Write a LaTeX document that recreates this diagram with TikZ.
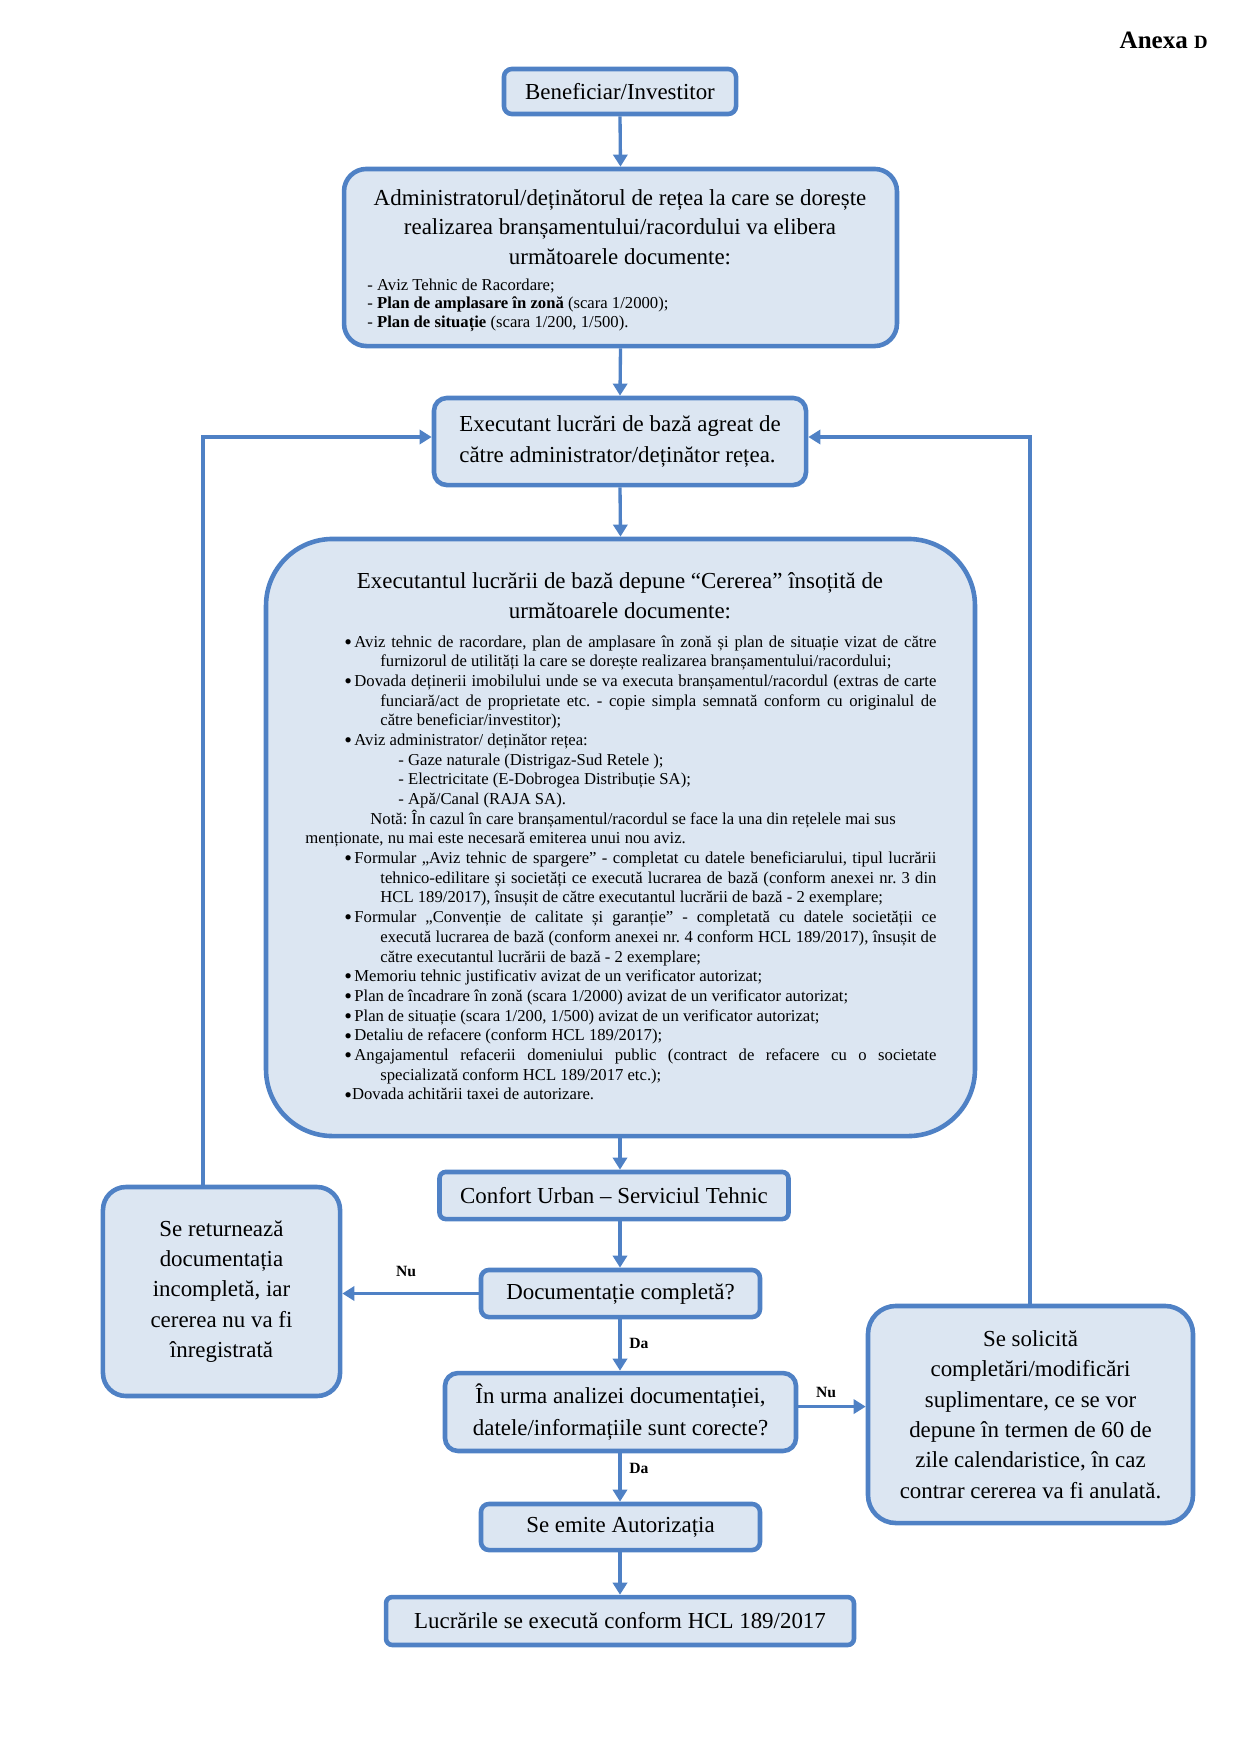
\documentclass[tikz,border=0pt]{standalone}
\usepackage{fontspec}
\setmainfont{Liberation Serif}
\usetikzlibrary{arrows.meta}
\definecolor{bcol}{RGB}{79,129,197}
\definecolor{fcol}{RGB}{220,230,242}
\frenchspacing
\newcommand\LJ[2]{\hbox to \hsize{\hskip #1\relax #2}}
\newcommand\LR[2]{\hbox to \hsize{\hskip #1\relax #2\hfil}}
\newcommand\bulg{\raisebox{-1.1pt}{\fontsize{10.5}{1}\selectfont •}}
\newcommand\bul{\makebox[4.8pt][l]{\bulg}}
\tikzset{
  bx/.style={draw=bcol, fill=fcol, line width=2.2pt, rounded corners=#1, inner sep=0pt, align=center, font=\fontsize{11}{14.6}\selectfont},
  arr/.style={draw=bcol, line width=1.6pt, -{Triangle[length=5.8pt,width=6.8pt]}},
  lbl/.style={inner sep=0pt, font=\fontsize{7.5}{9}\selectfont\bfseries},
  txt/.style={inner sep=0pt}
}
\begin{document}
\begin{tikzpicture}[x=0.48pt, y=-0.48pt]
\useasboundingbox (0,0) rectangle (1240,1754);
% title
\node[txt, anchor=base east] (anexa) at (1208,48) {\bfseries\fontsize{12}{14}\selectfont Anexa \fontsize{9}{11}\selectfont D};
% boxes
\node[bx=3.8pt, minimum width=111.4pt, minimum height=21.6pt] (ben) at (620,91.5) {Beneficiar/Investitor};
\node[bx=10.7pt, minimum width=265.4pt, minimum height=85pt] (adm) at (620.5,257.5) {};
\node[txt, anchor=base] (admhead) at (620,205) {\begin{minipage}[t]{265pt}\centering\fontsize{11}{14.2}\selectfont
Administratorul/deținătorul de rețea la care se dorește\\
realizarea branșamentului/racordului va elibera\\
următoarele documente:\end{minipage}};
\node[txt, anchor=base west] (admlist) at (367,290) {\begin{minipage}[t]{200pt}\fontsize{8}{9.1}\selectfont\baselineskip=9.1pt\lineskiplimit=-20pt
\LR{0pt}{- Aviz Tehnic de Racordare;}
\LR{0pt}{- \textbf{Plan de amplasare în zonă} (scara 1/2000);}
\LR{0pt}{- \textbf{Plan de situație} (scara 1/200, 1/500).}
\end{minipage}};
\node[bx=6.2pt, minimum width=178.6pt, minimum height=41.8pt, align=left, font=\fontsize{11}{14.9}\selectfont] (exe) at (620,441.5) {Executant lucrări de bază agreat de\\către administrator/deținător rețea.};
\node[bx=32pt, minimum width=340.3pt, minimum height=286.6pt] (big) at (620.5,837.5) {};
\node[txt, anchor=base] (bighead) at (620,588) {\begin{minipage}[t]{330pt}\centering\fontsize{11}{14.5}\selectfont
Executantul lucrării de bază depune “Cererea” însoțită de\\
următoarele documente:\end{minipage}};
\node[txt, anchor=base west] (biglist) at (305,647) {\begin{minipage}[t]{302.88pt}\fontsize{8}{9.45}\selectfont\baselineskip=9.45pt\lineskiplimit=-20pt
\LJ{18.72pt}{\bul Aviz tehnic de racordare, plan de amplasare în zonă și plan de situație vizat de către}
\LR{36pt}{furnizorul de utilități la care se dorește realizarea branșamentului/racordului;}
\LJ{18.72pt}{\bul Dovada deținerii imobilului unde se va executa branșamentul/racordul (extras de carte}
\LJ{36pt}{funciară/act de proprietate etc. - copie simpla semnată conform cu originalul de}
\LR{36pt}{către beneficiar/investitor);}
\LR{18.72pt}{\bul Aviz administrator/ deținător rețea:}
\LR{44.64pt}{- Gaze naturale (Distrigaz-Sud Retele );}
\LR{44.64pt}{- Electricitate (E-Dobrogea Distribuție SA);}
\LR{44.64pt}{- Apă/Canal (RAJA SA).}
\LR{31.2pt}{Notă: În cazul în care branșamentul/racordul se face la una din rețelele mai sus}
\LR{0pt}{menționate, nu mai este necesară emiterea unui nou aviz.}
\LJ{18.72pt}{\bul Formular „Aviz tehnic de spargere” - completat cu datele beneficiarului, tipul lucrării}
\LJ{36pt}{tehnico-edilitare și societăți ce execută lucrarea de bază (conform anexei nr. 3 din}
\LR{36pt}{HCL 189/2017), însușit de către executantul lucrării de bază - 2 exemplare;}
\LJ{18.72pt}{\bul Formular „Convenție de calitate și garanție” - completată cu datele societății ce}
\LJ{36pt}{execută lucrarea de bază (conform anexei nr. 4 conform HCL 189/2017), însușit de}
\LR{36pt}{către executantul lucrării de bază - 2 exemplare;}
\LR{18.72pt}{\bul Memoriu tehnic justificativ avizat de un verificator autorizat;}
\LR{18.72pt}{\bul Plan de încadrare în zonă (scara 1/2000) avizat de un verificator autorizat;}
\LR{18.72pt}{\bul Plan de situație (scara 1/200, 1/500) avizat de un verificator autorizat;}
\LR{18.72pt}{\bul Detaliu de refacere (conform HCL 189/2017);}
\LJ{18.72pt}{\bul Angajamentul refacerii domeniului public (contract de refacere cu o societate}
\LR{36pt}{specializată conform HCL 189/2017 etc.);}
\LR{18.72pt}{\bulg Dovada achitării taxei de autorizare.}
\end{minipage}};
\node[bx=3pt, minimum width=167.5pt, minimum height=22.6pt] (cu) at (614,1195.5) {Confort Urban – Serviciul Tehnic};
\node[bx=3.8pt, minimum width=133.9pt, minimum height=22.6pt] (doc) at (620.5,1293.5) {Documentație completă?};
\node[bx=6.2pt, minimum width=168.5pt, minimum height=37.4pt, font=\fontsize{11}{15}\selectfont] (ana) at (620.5,1412) {În urma analizei documentației,\\datele/informațiile sunt corecte?};
\node[bx=3.8pt, minimum width=133.9pt, minimum height=22.1pt] (emi) at (620.5,1527) {Se emite Autorizația};
\node[bx=3pt, minimum width=224.6pt, minimum height=23pt] (luc) at (620,1621) {Lucrările se execută conform HCL 189/2017};
\node[bx=11pt, minimum width=113.8pt, minimum height=100.3pt] (ret) at (221.5,1291.5) {Se returnează\\documentația\\incompletă, iar\\cererea nu va fi\\înregistrată};
\node[bx=13.4pt, minimum width=156pt, minimum height=104.2pt] (sol) at (1030.5,1414.5) {Se solicită\\completări/modificări\\suplimentare, ce se vor\\depune în termen de 60 de\\zile calendaristice, în caz\\contrar cererea va fi anulată.};
% axis and loop coordinates
\coordinate (ax) at (620,0);
\coordinate (lp) at (203,437);
\coordinate (rp) at (1030,437);
% connectors
\draw[arr] (ben.south) -- (adm.north);
\draw[arr] (adm.south) -- (exe.north);
\draw[arr] (exe.south) -- (big.south |- big.north);
\draw[arr] (ax |- big.south) -- (ax |- cu.north);
\draw[arr] (ax |- cu.south) -- (ax |- doc.north);
\draw[arr] (ax |- doc.south) -- (ax |- ana.north);
\draw[arr] (ax |- ana.south) -- (ax |- emi.north);
\draw[arr] (ax |- emi.south) -- (ax |- luc.north);
\draw[arr] (doc.west) -- (doc.west -| ret.east);
\draw[arr] ([yshift=2.6pt]ana.east) -- ([yshift=2.6pt]ana.east -| sol.west);
\draw[arr] (lp |- ret.north) -- (lp) -- (lp -| exe.west);
\draw[arr] (rp |- sol.north) -- (rp) -- (rp -| exe.east);
% labels
\node[lbl] (nu1) at (406,1271) {Nu};
\node[lbl] (da1) at (639,1343) {Da};
\node[lbl] (nu2) at (826,1392) {Nu};
\node[lbl] (da2) at (639,1468) {Da};
\end{tikzpicture}
\end{document}
